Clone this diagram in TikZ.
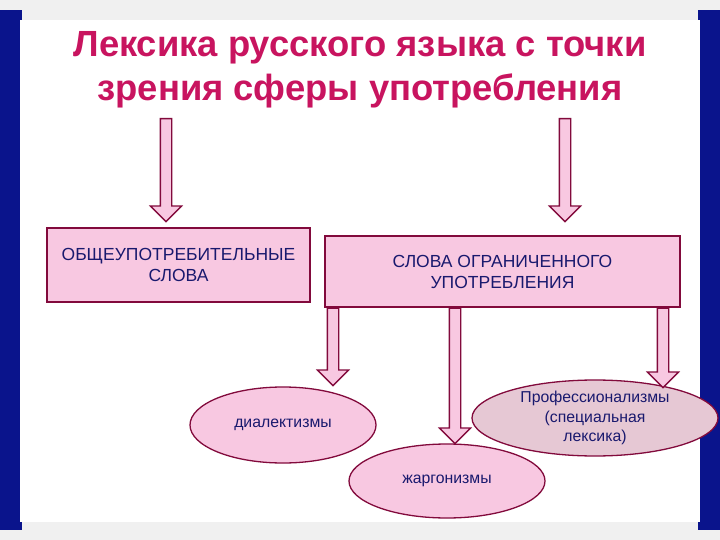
\documentclass[tikz,border=0pt]{standalone}
\usepackage{fontspec}
\setmainfont{Liberation Sans}
\usetikzlibrary{shapes.arrows,shapes.geometric,calc}
\definecolor{mag}{RGB}{200,20,95}
\definecolor{dred}{RGB}{130,10,60}
\definecolor{pk}{RGB}{248,200,225}
\definecolor{pk2}{RGB}{230,200,212}
\definecolor{navy}{RGB}{25,25,110}
\definecolor{blu}{RGB}{10,20,140}
\tikzset{
  sarrow/.style={single arrow, draw=dred, fill=pk, line width=1.3pt, inner sep=5pt,
    single arrow head extend=10pt, single arrow tip angle=90, shape border rotate=270},
  boxn/.style={draw=dred, fill=pk, line width=1.3pt, align=center, text=navy, font=\fontsize{17.5}{21}\selectfont},
  ell/.style={ellipse, draw=dred, fill=pk, line width=1.3pt, align=center, text=navy, font=\fontsize{15.8}{19.5}\selectfont, inner sep=0pt}
}
\newcommand\barrow[3]{\path let \p1=(#1), \p2=(#2) in node[sarrow, minimum height={\y1-\y2}, anchor=tail] (#3) at (\p1) {};}
\begin{document}
\begin{tikzpicture}[x=1pt,y=1pt]
\useasboundingbox (0,0) rectangle (720,-540);
\fill[gray!12] (0,0) rectangle (720,-540);
\fill[blu] (0,-10) rectangle (22,-530);
\fill[blu] (698,-10) rectangle (720,-530);
\fill[white] (20,-20) rectangle (700,-522);
\node[text=mag, font=\bfseries\fontsize{36.4}{44}\selectfont, align=center] (title) at (360,-70)
  {Лексика русского языка с точки\\зрения сферы употребления};
\node[boxn, minimum width=263pt, minimum height=74pt] (b1) at (178.5,-265) {ОБЩЕУПОТРЕБИТЕЛЬНЫЕ\\СЛОВА};
\node[boxn, minimum width=355pt, minimum height=71pt] (b2) at (502.5,-271.5) {СЛОВА ОГРАНИЧЕННОГО\\УПОТРЕБЛЕНИЯ};
\node[ell, minimum width=186pt, minimum height=76pt] (e1) at (283,-425) {диалектизмы};
\node[ell, minimum width=196pt, minimum height=74pt] (e2) at (447,-481) {жаргонизмы};
\node[ell, fill=pk2, minimum width=246pt, minimum height=74pt] (e3) at (595,-418) {Профессионализмы\\(специальная\\лексика)};
\coordinate (t1) at (166,-118);
\coordinate (t2) at (565,-118);
\barrow{t1}{166,-221}{a1}
\barrow{t2}{565,-221}{a2}
\barrow{b2.south -| 333,0}{333,-385}{a3}
\barrow{b2.south -| 455,0}{455,-443}{a4}
\barrow{b2.south -| 663,0}{663,-387}{a5}
\end{tikzpicture}
\end{document}
